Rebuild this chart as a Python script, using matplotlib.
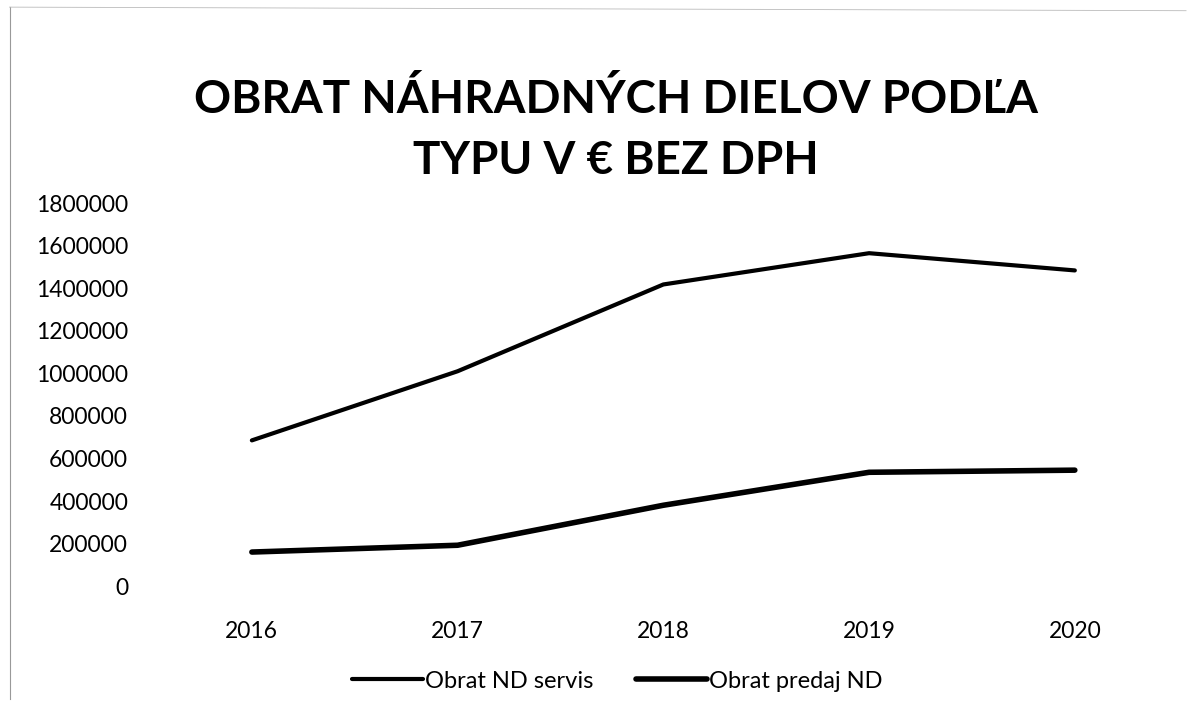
import numpy as np
import matplotlib
matplotlib.use("Agg")
import matplotlib.pyplot as plt
from matplotlib.lines import Line2D

plt.rcParams['font.family'] = ['Lato', 'DejaVu Sans']

# --- data ---
years = ['2016', '2017', '2018', '2019', '2020']
servis = [685000, 1010000, 1418000, 1565000, 1484000]
predaj = [160000, 192000, 380000, 535000, 545000]
y_ticks = [0, 200000, 400000, 600000, 800000, 1000000, 1200000, 1400000, 1600000, 1800000]
title = 'OBRAT NÁHRADNÝCH DIELOV PODĽA\nTYPU V € BEZ DPH'
labels = ['Obrat ND servis', 'Obrat predaj ND']

fig = plt.figure(figsize=(11.92, 7.13), dpi=100)
ax = fig.add_axes([0.125, 0.178, 0.863, 0.537])

x = np.arange(len(years))
ax.plot(x, servis, color='black', lw=3.0, solid_capstyle='round', label=labels[0])
ax.plot(x, predaj, color='black', lw=4.0, solid_capstyle='round', label=labels[1])

ax.set_xlim(-0.5, len(years) - 0.5)
ax.set_ylim(0, 1800000)
ax.set_xticks(x)
ax.set_xticklabels(years)
ax.set_yticks(y_ticks)
ax.set_yticklabels([str(v) for v in y_ticks])
ax.tick_params(axis='both', length=0, labelsize=16.5, colors='black')
ax.tick_params(axis='x', pad=25)
ax.tick_params(axis='y', pad=15)
for s in ax.spines.values():
    s.set_visible(False)

fig.suptitle(title, x=0.517, y=0.89, fontsize=33, fontweight='bold', linespacing=1.55)

ax.legend(loc='upper center', bbox_to_anchor=(0.455, -0.165), ncol=2, frameon=False,
          fontsize=17, handlelength=3.0, handletextpad=0.1, columnspacing=1.8)

# faint scan border of the chart area
fig.add_artist(Line2D([0.008, 0.008], [0.02, 0.99], color='#999999', lw=0.8))
fig.add_artist(Line2D([0.008, 0.995], [0.99, 0.985], color='#bbbbbb', lw=0.6))

fig.savefig('out.png', dpi=100)
